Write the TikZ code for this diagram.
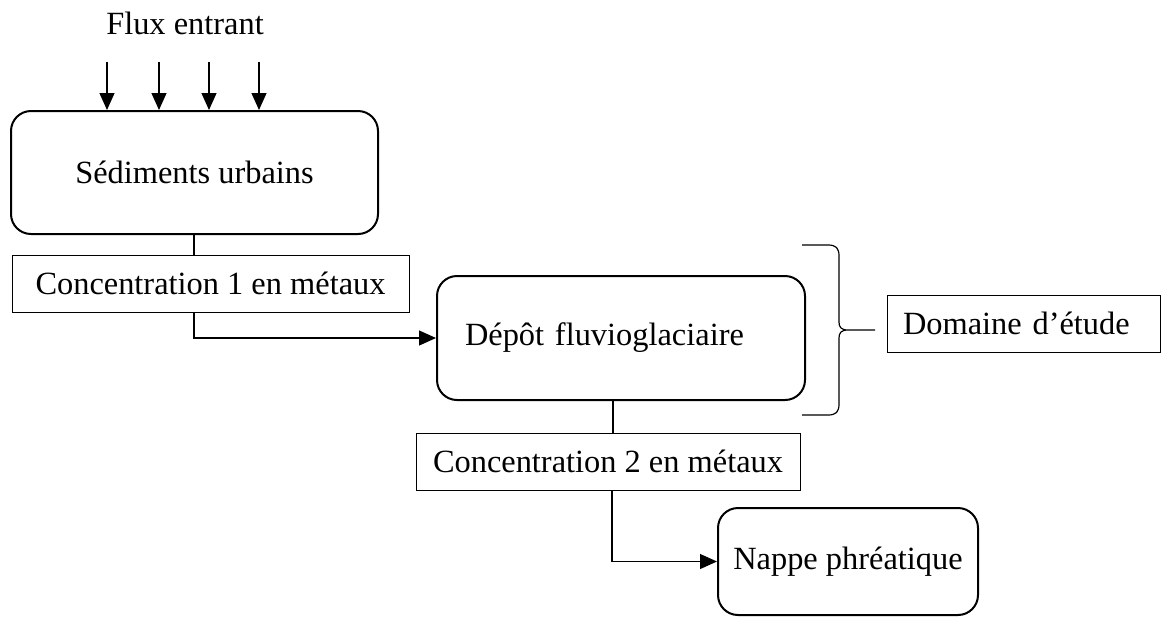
\documentclass[tikz,border=0pt]{standalone}
\usepackage{fontspec}
\setmainfont{Liberation Serif}
\usetikzlibrary{arrows.meta}
\tikzset{
  rbox/.style={draw,rounded corners=10pt,line width=1pt,font=\fontsize{16.2}{19}\selectfont},
  sbox/.style={draw,line width=0.5pt,font=\fontsize{16.2}{19}\selectfont},
  flow/.style={line width=0.6pt,-{Triangle[length=8.5pt,width=7.5pt]}},
}
\begin{document}
\begin{tikzpicture}[x=0.5pt,y=-0.5pt]
      \useasboundingbox (0,0) rectangle (1162,617);
      \node[font=\fontsize{16.2}{19}\selectfont] (flux) at (185,23) {Flux entrant};
      \node[rbox,minimum width=183.5pt,minimum height=61.5pt] (sed) at (194.5,172.5) {Sédiments urbains};
      \node[sbox,minimum width=198.5pt,minimum height=28.5pt] (conc1) at (210.5,283.5) {Concentration 1 en métaux};
      \node[rbox,minimum height=62pt,text width=156pt,inner xsep=14pt,align=left] (depot) at (621,338) {Dépôt fluvioglaciaire};
      \node[sbox,minimum width=192pt,minimum height=28.5pt] (conc2) at (608,461.5) {Concentration 2 en métaux};
      \node[rbox,minimum width=130pt,minimum height=53.5pt] (nappe) at (848,561.5) {Nappe phréatique};
      \node[sbox,minimum height=28.5pt,text width=120.5pt,inner xsep=8pt,align=left] (dom) at (1023.5,323.5) {Domaine d’étude};
      % flux entrant
      \coordinate (f1) at (107,62);
      \coordinate (f2) at (159,62);
      \coordinate (f3) at (209,62);
      \coordinate (f4) at (259,62);
      \draw[flow] (f1) -- (f1 |- sed.north);
      \draw[flow] (f2) -- (f2 |- sed.north);
      \draw[flow] (f3) -- (f3 |- sed.north);
      \draw[flow] (f4) -- (f4 |- sed.north);
      % liaisons
      \draw[line width=0.6pt] ([xshift=-0.25pt]sed.south) -- ([xshift=-0.25pt]sed.south |- conc1.north);
      \draw[flow] ([xshift=-0.25pt]sed.south |- conc1.south) |- (depot.west);
      \draw[line width=0.6pt] ([xshift=-4pt]depot.south) -- ([xshift=-4pt]depot.south |- conc2.north);
      \draw[flow] ([xshift=2pt]conc2.south) |- (nappe.west);
      % accolade
      \draw[line width=0.6pt] (802,245) -- (828,245) .. controls (836,245) and (839,248) .. (839,256)
        -- (839,322) .. controls (839,327) and (841,330) .. (848,330) -- (875,330)
        (848,330) .. controls (841,330) and (839,333) .. (839,338)
        -- (839,404) .. controls (839,412) and (836,415) .. (828,415) -- (802,415);
    \end{tikzpicture}
\end{document}
